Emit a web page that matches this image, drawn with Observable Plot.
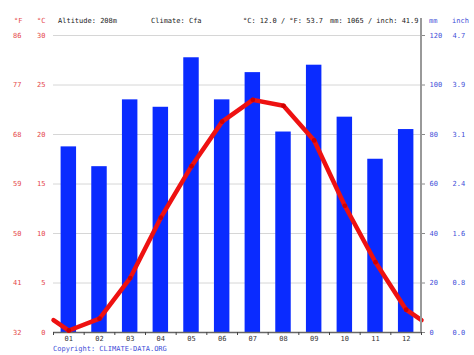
<!DOCTYPE html>
<html><head><meta charset="utf-8">
<script src="https://cdn.jsdelivr.net/npm/d3@7"></script>
<script src="https://cdn.jsdelivr.net/npm/@observablehq/plot@0.6"></script>
<style>body{margin:0;background:#fff} #chart svg{display:block}</style>
</head><body><div id="chart"></div>
<script>
const months = ["01","02","03","04","05","06","07","08","09","10","11","12"];
const precipMm = [75,67,94,91,111,94,105,81,108,87,70,82];
const tempC = [0.2,1.4,5.5,11.6,16.8,21.3,23.5,22.9,19.4,12.8,7.1,2.3];
const cTicks = [0,5,10,15,20,25,30];
const fTickLabels = ["32","41","50","59","68","77","86"];
const mmTicks = [0,20,40,60,80,100,120];
const inchTickLabels = ["0.0","0.8","1.6","2.4","3.1","3.9","4.7"];
const headerTexts = ["Altitude: 208m","Climate: Cfa","°C: 12.0 / °F: 53.7","mm: 1065 / inch: 41.9"];
const copyright = "Copyright: CLIMATE-DATA.ORG";

const RED = "#e5484a", BLUE = "#3f4fd8", FONT = "DejaVu Sans Mono";
const rows = months.map((m, i) => ({month: m, i, mm: precipMm[i], c: tempC[i]}));
const edgeC = (tempC[11] + tempC[0]) / 2;
const linePts = [{x: 0, c: edgeC}, ...rows.map(d => ({x: d.i + 0.5, c: d.c})), {x: 12, c: edgeC}];
const mmToC = mm => mm * 30 / 120;
const mmPos = mmTicks.map(mmToC);

const chart = Plot.plot({
  width: 474, height: 355,
  marginLeft: 53, marginRight: 53, marginTop: 35, marginBottom: 23,
  style: {fontFamily: FONT, fontSize: "7px", background: "#fff"},
  x: {type: "linear", domain: [0, 12], axis: null},
  y: {domain: [0, 30], axis: null},
  marks: [
    Plot.gridY(cTicks, {stroke: "#d6d6d6", strokeOpacity: 1}),
    Plot.rectY(rows, {x1: d => d.i, x2: d => d.i + 1, y: d => mmToC(d.mm), fill: "#0a2bff", insetLeft: 7.6, insetRight: 7.6}),
    Plot.ruleY([0], {stroke: "#666", strokeWidth: 1.5}),
    Plot.axisX(d3.range(13), {anchor: "bottom", label: null, tickSize: 3, tickFormat: () => "", stroke: "#444"}),
    Plot.axisX(rows.map(d => d.i + 0.5), {anchor: "bottom", label: null, tickSize: 0, tickPadding: 4, tickFormat: d => months[Math.round(d - 0.5)], fill: "#333"}),
    Plot.line(linePts, {x: "x", y: "c", stroke: "#ee1111", strokeWidth: 4.5, strokeLinejoin: "round"}),
    Plot.dot(rows, {x: d => d.i + 0.5, y: "c", r: 2.4, fill: "#d00000"}),
    Plot.axisY(cTicks, {anchor: "left", label: null, tickSize: 0, tickPadding: 8, fill: RED}),
    Plot.axisY(cTicks, {anchor: "left", label: null, tickSize: 0, tickPadding: 32, tickFormat: d => fTickLabels[cTicks.indexOf(d)], fill: RED}),
    Plot.axisY(mmPos, {anchor: "right", label: null, tickSize: 3, tickPadding: 5, stroke: "#888", tickFormat: d => String(mmTicks[mmPos.indexOf(d)]), fill: BLUE}),
    Plot.axisY(mmPos, {anchor: "right", label: null, tickSize: 0, tickPadding: 31, tickFormat: d => inchTickLabels[mmPos.indexOf(d)], fill: BLUE})
  ]
});

const svg = d3.select(chart);
const xs = chart.scale("x"), ys = chart.scale("y");
svg.append("line")
  .attr("x1", xs.apply(12)).attr("x2", xs.apply(12))
  .attr("y1", 18).attr("y2", ys.apply(0))
  .attr("stroke", "#999").attr("stroke-width", 2);
const header = [
  {t: "°F", x: 14, c: RED}, {t: "°C", x: 37, c: RED},
  {t: headerTexts[0], x: 58, c: "#222"}, {t: headerTexts[1], x: 151, c: "#222"},
  {t: headerTexts[2], x: 243, c: "#222"}, {t: headerTexts[3], x: 330, c: "#222"},
  {t: "mm", x: 429, c: BLUE}, {t: "inch", x: 452, c: BLUE}
];
svg.append("g").attr("font-family", FONT).attr("font-size", 7).attr("text-anchor", "start")
  .selectAll("text").data(header).join("text")
  .attr("x", d => d.x).attr("y", 23).attr("fill", d => d.c).text(d => d.t);
svg.append("text").attr("x", 53).attr("y", 351).attr("text-anchor", "start")
  .attr("font-family", FONT).attr("font-size", 7).attr("fill", BLUE).text(copyright);
document.getElementById("chart").append(chart);
</script>
</body></html>
